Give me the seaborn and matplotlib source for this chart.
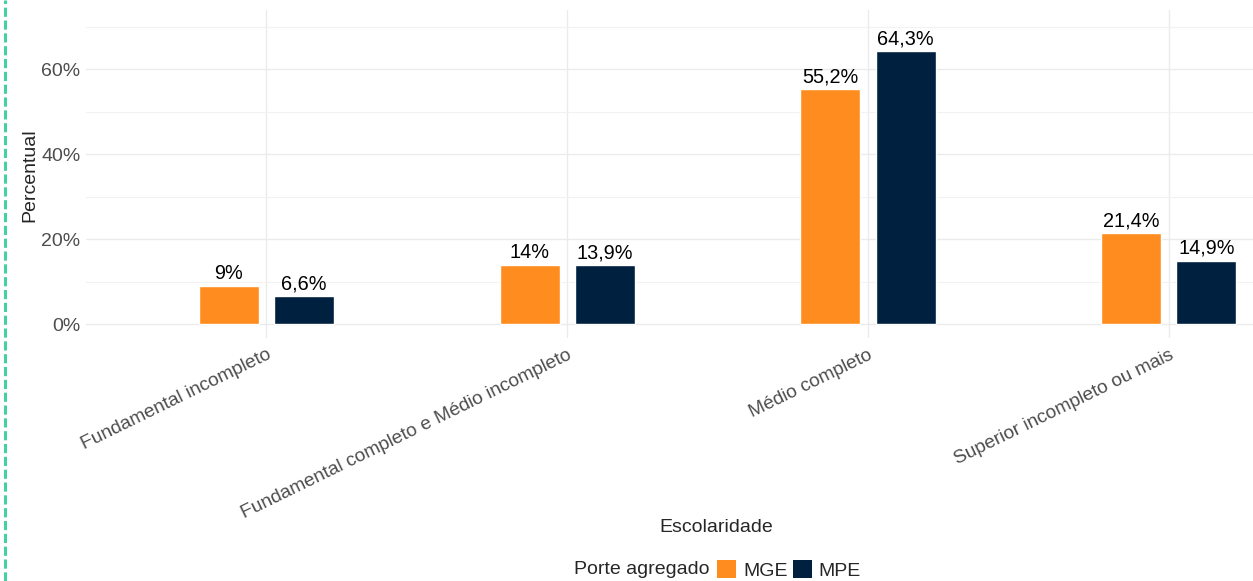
import matplotlib
matplotlib.use("Agg")
import matplotlib.pyplot as plt
from matplotlib.lines import Line2D
from matplotlib.patches import Patch
import seaborn as sns
import pandas as pd

categorias = [
    "Fundamental incompleto",
    "Fundamental completo e Médio incompleto",
    "Médio completo",
    "Superior incompleto ou mais",
]
mge = [9.0, 14.0, 55.2, 21.4]
mpe = [6.6, 13.9, 64.3, 14.9]
portes = ["MGE", "MPE"]
cores = {"MGE": "#FF8C1F", "MPE": "#00203F"}

df = pd.DataFrame({
    "Escolaridade": categorias * 2,
    "Percentual": mge + mpe,
    "Porte": ["MGE"] * len(mge) + ["MPE"] * len(mpe),
})

sns.set_theme(style="white")
plt.rcParams["font.family"] = ["Liberation Sans", "DejaVu Sans"]

W, H = 1253, 581
fig = plt.figure(figsize=(W / 100, H / 100), dpi=100)
ax = fig.add_axes([86 / W, 1 - 338 / H, 1 - 86 / W, (338 - 10) / H])

sns.barplot(data=df, x="Escolaridade", y="Percentual", hue="Porte",
            order=categorias, hue_order=portes, palette=cores,
            width=0.5, gap=0.2, saturation=1, legend=False, ax=ax, zorder=3)

for cont, vals in zip(ax.containers, [mge, mpe]):
    labs = [f"{v:g}".replace(".", ",") + "%" for v in vals]
    ax.bar_label(cont, labels=labs, padding=2, fontsize=14.3, color="black")

ax.set_xlim(-0.6, 3.28)
ax.set_ylim(-3.29, 73.9)
ax.set_yticks([0, 20, 40, 60])
ax.set_yticklabels(["0%", "20%", "40%", "60%"])
ax.set_yticks([10, 30, 50, 70], minor=True)
ax.grid(True, which="major", color="#EBEBEB", linewidth=1, zorder=0)
ax.grid(True, which="minor", axis="y", color="#F2F2F2", linewidth=0.8, zorder=0)
ax.set_axisbelow(True)
for s in ax.spines.values():
    s.set_visible(False)
ax.tick_params(axis="both", length=0, labelsize=14, labelcolor="#4D4D4D", pad=4)
ax.tick_params(axis="x", pad=6, labelsize=13.8)
plt.setp(ax.get_xticklabels(), rotation=26, ha="right", rotation_mode="anchor")
ax.set_xlabel("")
ax.set_ylabel("")

fig.text(716 / W, 1 - 528 / H, "Escolaridade", ha="center", va="center", fontsize=14)
fig.text(30 / W, 1 - 175 / H, "Percentual", ha="center", va="center",
         rotation=90, fontsize=14)

# bottom legend
fig.text(710 / W, 1 - 570 / H, "Porte agregado", ha="right", va="center", fontsize=14)
handles = [Patch(facecolor=cores[p], edgecolor="none", label=p) for p in portes]
fig.legend(handles=handles, loc="center left", bbox_to_anchor=(717 / W, 1 - 570 / H),
           ncol=2, frameon=False, fontsize=14, handlelength=1.0, handleheight=1.0,
           handletextpad=0.35, columnspacing=0.25, borderaxespad=0, borderpad=0)

# dashed accent line on the left edge
fig.add_artist(Line2D([5 / W, 5 / W], [0, 1], transform=fig.transFigure,
                      color="#45D0A3", linewidth=2.2, dashes=(3, 1.2)))

fig.savefig("out.png", dpi=100)
